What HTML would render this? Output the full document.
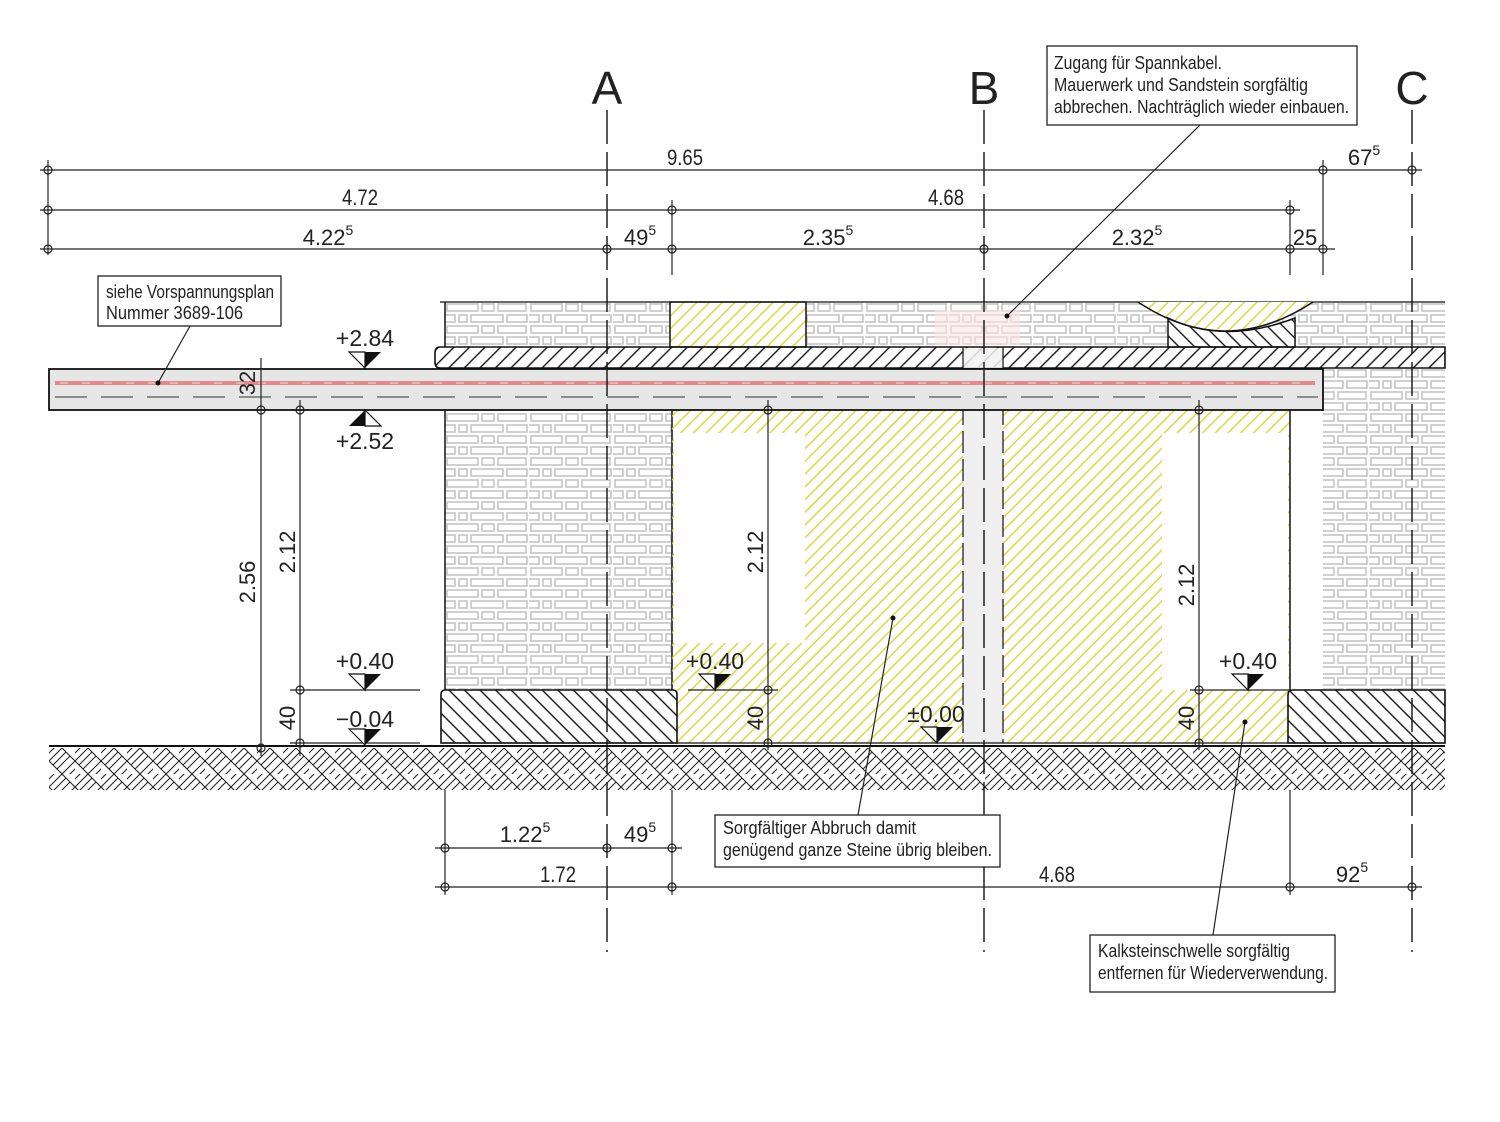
<!DOCTYPE html>
<html><head><meta charset="utf-8"><style>
html,body{margin:0;padding:0;background:#fff}
svg{display:block}
text{font-family:"Liberation Sans Narrow","Liberation Sans",sans-serif;fill:#222}
</style></head><body>
<svg width="1500" height="1122" viewBox="0 0 1500 1122" xmlns="http://www.w3.org/2000/svg">
<defs>
<pattern id="yel" width="9" height="9" patternUnits="userSpaceOnUse" patternTransform="rotate(45)">
<line x1="4.5" y1="-1" x2="4.5" y2="10" stroke="#d6d43a" stroke-width="1.4"/></pattern>
<pattern id="blk" width="11" height="11" patternUnits="userSpaceOnUse" patternTransform="rotate(45)">
<line x1="5.5" y1="-1" x2="5.5" y2="12" stroke="#111" stroke-width="1.4"/></pattern>
<pattern id="blk2" width="11" height="11" patternUnits="userSpaceOnUse" patternTransform="rotate(-45)">
<line x1="5.5" y1="-1" x2="5.5" y2="12" stroke="#111" stroke-width="1.4"/></pattern>
<pattern id="brick" width="84" height="22" patternUnits="userSpaceOnUse" x="445" y="302">
<rect width="84" height="22" fill="#fff"/>
<g fill="none" stroke="#c4c4c4" stroke-width="1.6">
<rect x="2" y="2" width="31" height="7"/><rect x="37" y="2" width="12" height="7"/><rect x="53" y="2" width="28" height="7"/>
<rect x="-10" y="13" width="20" height="7"/><rect x="14" y="13" width="8" height="7"/><rect x="26" y="13" width="32" height="7"/><rect x="62" y="13" width="20" height="7"/>
</g></pattern>
<pattern id="ground" width="26" height="26" patternUnits="userSpaceOnUse" x="49" y="748">
<rect width="26" height="26" fill="#fff"/>
<g stroke="#222" stroke-width="1.1">
<line x1="0" y1="13" x2="13" y2="0"/><line x1="4" y1="17" x2="17" y2="4"/><line x1="8" y1="21" x2="21" y2="8"/>
<line x1="13" y1="26" x2="26" y2="13"/><line x1="17" y1="30" x2="30" y2="17"/><line x1="-4" y1="9" x2="9" y2="-4"/>
<line x1="13" y1="0" x2="26" y2="13"/><line x1="0" y1="13" x2="13" y2="26"/>
</g></pattern>
<g id="tk"><circle r="4" fill="none" stroke="#222" stroke-width="1.2"/></g>
<g id="lv"><polygon points="-16,-16 0,0 0,-16" fill="#fff" stroke="#111" stroke-width="1.2"/><polygon points="0,-16 16,-16 0,0" fill="#111"/></g>
<g id="lvu"><polygon points="-16,16 0,0 0,16" fill="#111"/><polygon points="0,0 16,16 0,16" fill="#fff" stroke="#111" stroke-width="1.2"/></g>
</defs>

<rect x="445" y="302" width="1000" height="45" fill="url(#brick)"/>
<rect x="670" y="302" width="136" height="45" fill="#fff"/>
<rect x="670" y="302" width="136" height="45" fill="url(#yel)" stroke="#111" stroke-width="1.5"/>
<line x1="445" y1="302" x2="445" y2="347" stroke="#111" stroke-width="1.5"/>
<line x1="440" y1="302" x2="1445" y2="302" stroke="#111" stroke-width="1.3"/>
<path d="M1138 302 Q1225 360 1313 302 Z" fill="#fff"/>
<path d="M1138 302 Q1225 360 1313 302 Z" fill="url(#yel)"/>
<path d="M1168 318 Q1225 345 1295 318 L1295 347 L1168 347 Z" fill="#fff"/>
<path d="M1168 318 Q1225 345 1295 318 L1295 347 L1168 347 Z" fill="url(#blk2)" stroke="#111" stroke-width="1.5"/>
<path d="M1138 302 Q1225 360 1313 302" fill="none" stroke="#111" stroke-width="1.5"/>
<rect x="935" y="310" width="85" height="35" fill="#fbe4e4" opacity="0.6"/>
<path d="M440 347 L1445 347 L1445 368 L440 368 Q435 368 435 362 L435 353 Q435 347 440 347 Z" fill="url(#blk)" stroke="#111" stroke-width="1.6"/>
<rect x="963" y="348" width="40" height="20" fill="#f2f2f2" opacity="0.85"/>
<rect x="1323" y="369" width="122" height="321" fill="url(#brick)"/>
<rect x="445" y="410" width="227" height="280" fill="url(#brick)"/>
<line x1="445" y1="410" x2="445" y2="690" stroke="#111" stroke-width="1.5"/>
<line x1="672" y1="410" x2="672" y2="690" stroke="#111" stroke-width="1.5"/>
<rect x="672" y="410" width="618" height="333" fill="url(#yel)"/>
<rect x="674" y="433" width="131" height="210" fill="#fff"/>
<rect x="1162" y="433" width="126" height="257" fill="#fff"/>
<line x1="1290" y1="410" x2="1290" y2="690" stroke="#111" stroke-width="1.5"/>
<rect x="963" y="410" width="40" height="333" fill="#efefef"/>
<line x1="963" y1="347" x2="963" y2="743" stroke="#111" stroke-width="1.2" stroke-dasharray="22,6"/>
<line x1="1003" y1="347" x2="1003" y2="743" stroke="#111" stroke-width="1.2" stroke-dasharray="22,6"/>
<rect x="49" y="369" width="1274" height="41" fill="#e6e6e6" stroke="#111" stroke-width="1.8"/>
<line x1="55" y1="383" x2="1315" y2="383" stroke="#e08a8a" stroke-width="4"/>
<line x1="60" y1="383" x2="1300" y2="383" stroke="#fff" stroke-width="1" stroke-dasharray="8,14" opacity="0.7"/>
<line x1="55" y1="397" x2="1318" y2="397" stroke="#333" stroke-width="1" stroke-dasharray="32,14"/>
<path d="M445 690 L673 690 Q677 690 677 695 L677 743 L441 743 L441 695 Q441 690 445 690 Z" fill="#fff"/>
<path d="M445 690 L673 690 Q677 690 677 695 L677 743 L441 743 L441 695 Q441 690 445 690 Z" fill="url(#blk2)" stroke="#111" stroke-width="1.6"/>
<path d="M1293 690 L1445 690 L1445 743 L1288 743 L1288 695 Q1288 690 1293 690 Z" fill="#fff"/>
<path d="M1293 690 L1445 690 L1445 743 L1288 743 L1288 695 Q1288 690 1293 690 Z" fill="url(#blk2)" stroke="#111" stroke-width="1.6"/>
<rect x="49" y="748" width="1396" height="42" fill="url(#ground)"/>
<line x1="49" y1="746" x2="1445" y2="746" stroke="#111" stroke-width="2"/>
<line x1="441" y1="743" x2="1445" y2="743" stroke="#111" stroke-width="1.3"/>

<g stroke="#111" stroke-width="1.4" stroke-dasharray="34,8">
<line x1="607" y1="110" x2="607" y2="952"/><line x1="984" y1="110" x2="984" y2="952"/><line x1="1412" y1="110" x2="1412" y2="952"/>
</g>
<g font-size="46" text-anchor="middle"><text x="607" y="104">A</text><text x="984" y="104">B</text><text x="1412" y="104">C</text></g>

<g stroke="#222" stroke-width="1.2" fill="none">
<line x1="40" y1="170" x2="1422" y2="170"/>
<line x1="40" y1="210" x2="1300" y2="210"/>
<line x1="40" y1="249" x2="1335" y2="249"/>
<line x1="48" y1="160" x2="48" y2="255"/>
<line x1="1323" y1="160" x2="1323" y2="275"/>
<line x1="672" y1="200" x2="672" y2="275"/>
<line x1="1290" y1="200" x2="1290" y2="275"/>
<line x1="261" y1="358" x2="261" y2="756"/>
<line x1="300" y1="400" x2="300" y2="756"/>
<line x1="290" y1="690" x2="420" y2="690"/><line x1="290" y1="743" x2="420" y2="743"/>
<line x1="768" y1="400" x2="768" y2="750"/><line x1="688" y1="690" x2="778" y2="690"/>
<line x1="1199" y1="400" x2="1199" y2="750"/><line x1="1190" y1="690" x2="1290" y2="690"/>
<line x1="435" y1="848" x2="682" y2="848"/>
<line x1="435" y1="887" x2="1422" y2="887"/>
<line x1="445" y1="790" x2="445" y2="895"/><line x1="672" y1="790" x2="672" y2="895"/><line x1="1290" y1="790" x2="1290" y2="895"/>
</g>
<g>
<use href="#tk" x="48" y="170"/><use href="#tk" x="1323" y="170"/><use href="#tk" x="1412" y="170"/>
<use href="#tk" x="48" y="210"/><use href="#tk" x="672" y="210"/><use href="#tk" x="1290" y="210"/>
<use href="#tk" x="48" y="249"/><use href="#tk" x="607" y="249"/><use href="#tk" x="672" y="249"/><use href="#tk" x="984" y="249"/><use href="#tk" x="1290" y="249"/><use href="#tk" x="1323" y="249"/>
<use href="#tk" x="261" y="410"/><use href="#tk" x="261" y="748"/>
<use href="#tk" x="300" y="410"/><use href="#tk" x="300" y="690"/><use href="#tk" x="300" y="743"/>
<use href="#tk" x="768" y="410"/><use href="#tk" x="768" y="690"/><use href="#tk" x="768" y="743"/>
<use href="#tk" x="1199" y="410"/><use href="#tk" x="1199" y="690"/><use href="#tk" x="1199" y="743"/>
<use href="#tk" x="445" y="848"/><use href="#tk" x="607" y="848"/><use href="#tk" x="672" y="848"/>
<use href="#tk" x="445" y="887"/><use href="#tk" x="672" y="887"/><use href="#tk" x="1290" y="887"/><use href="#tk" x="1412" y="887"/>
</g>
<g font-size="22" text-anchor="middle">
<text x="685" y="165" textLength="36" lengthAdjust="spacingAndGlyphs">9.65</text>
<text x="1364" y="165">67<tspan font-size="14" dy="-10">5</tspan></text>
<text x="360" y="205" textLength="36" lengthAdjust="spacingAndGlyphs">4.72</text>
<text x="946" y="205" textLength="36" lengthAdjust="spacingAndGlyphs">4.68</text>
<text x="328" y="245">4.22<tspan font-size="14" dy="-10">5</tspan></text>
<text x="640" y="245">49<tspan font-size="14" dy="-10">5</tspan></text>
<text x="828" y="245">2.35<tspan font-size="14" dy="-10">5</tspan></text>
<text x="1137" y="245">2.32<tspan font-size="14" dy="-10">5</tspan></text>
<text x="1305" y="245">25</text>
<text x="525" y="842">1.22<tspan font-size="14" dy="-10">5</tspan></text>
<text x="640" y="842">49<tspan font-size="14" dy="-10">5</tspan></text>
<text x="558" y="882" textLength="36" lengthAdjust="spacingAndGlyphs">1.72</text>
<text x="1057" y="882" textLength="36" lengthAdjust="spacingAndGlyphs">4.68</text>
<text x="1352" y="882">92<tspan font-size="14" dy="-10">5</tspan></text>
<text transform="translate(255,582) rotate(-90)">2.56</text>
<text transform="translate(295,552) rotate(-90)">2.12</text>
<text transform="translate(295,718) rotate(-90)">40</text>
<text transform="translate(255,383) rotate(-90)">32</text>
<text transform="translate(763,552) rotate(-90)">2.12</text>
<text transform="translate(763,718) rotate(-90)">40</text>
<text transform="translate(1194,585) rotate(-90)">2.12</text>
<text transform="translate(1194,718) rotate(-90)">40</text>
</g>
<use href="#lv" x="365" y="368"/><use href="#lvu" x="365" y="410"/>
<use href="#lv" x="365" y="690"/><use href="#lv" x="365" y="745"/>
<use href="#lv" x="715" y="690"/><use href="#lv" x="937" y="743"/><use href="#lv" x="1248" y="690"/>
<g font-size="23" text-anchor="middle">
<text x="365" y="346">+2.84</text><text x="365" y="449">+2.52</text>
<text x="365" y="669">+0.40</text><text x="365" y="727">−0.04</text>
<text x="715" y="669">+0.40</text><text x="936" y="722">±0.00</text><text x="1248" y="669">+0.40</text>
</g>
<g fill="#fff" stroke="#222" stroke-width="1.3">
<rect x="98" y="276" width="183" height="50"/>
<rect x="1047" y="46" width="310" height="79"/>
<rect x="715" y="815" width="285" height="52"/>
<rect x="1090" y="935" width="245" height="57"/>
</g>
<g stroke="#222" stroke-width="1.2">
<line x1="190" y1="326" x2="158" y2="383"/><line x1="1200" y1="125" x2="1007" y2="316"/>
<line x1="858" y1="815" x2="893" y2="618"/><line x1="1213" y1="935" x2="1245" y2="722"/>
</g>
<g fill="#111"><circle cx="158" cy="383" r="2.5"/><circle cx="1007" cy="316" r="2.5"/><circle cx="893" cy="618" r="2.5"/><circle cx="1245" cy="722" r="2.5"/></g>
<g font-size="18" lengthAdjust="spacingAndGlyphs">
<text x="106" y="298" textLength="168" lengthAdjust="spacingAndGlyphs">siehe Vorspannungsplan</text>
<text x="106" y="319" textLength="137" lengthAdjust="spacingAndGlyphs">Nummer 3689-106</text>
<text x="1054" y="69" textLength="168" lengthAdjust="spacingAndGlyphs">Zugang für Spannkabel.</text>
<text x="1054" y="91" textLength="254" lengthAdjust="spacingAndGlyphs">Mauerwerk und Sandstein sorgfältig</text>
<text x="1054" y="113" textLength="295" lengthAdjust="spacingAndGlyphs">abbrechen. Nachträglich wieder einbauen.</text>
<text x="723" y="834" textLength="193" lengthAdjust="spacingAndGlyphs">Sorgfältiger Abbruch damit</text>
<text x="723" y="856" textLength="269" lengthAdjust="spacingAndGlyphs">genügend ganze Steine übrig bleiben.</text>
<text x="1098" y="957" textLength="192" lengthAdjust="spacingAndGlyphs">Kalksteinschwelle sorgfältig</text>
<text x="1098" y="979" textLength="230" lengthAdjust="spacingAndGlyphs">entfernen für Wiederverwendung.</text>
</g>
</svg>
</body></html>
